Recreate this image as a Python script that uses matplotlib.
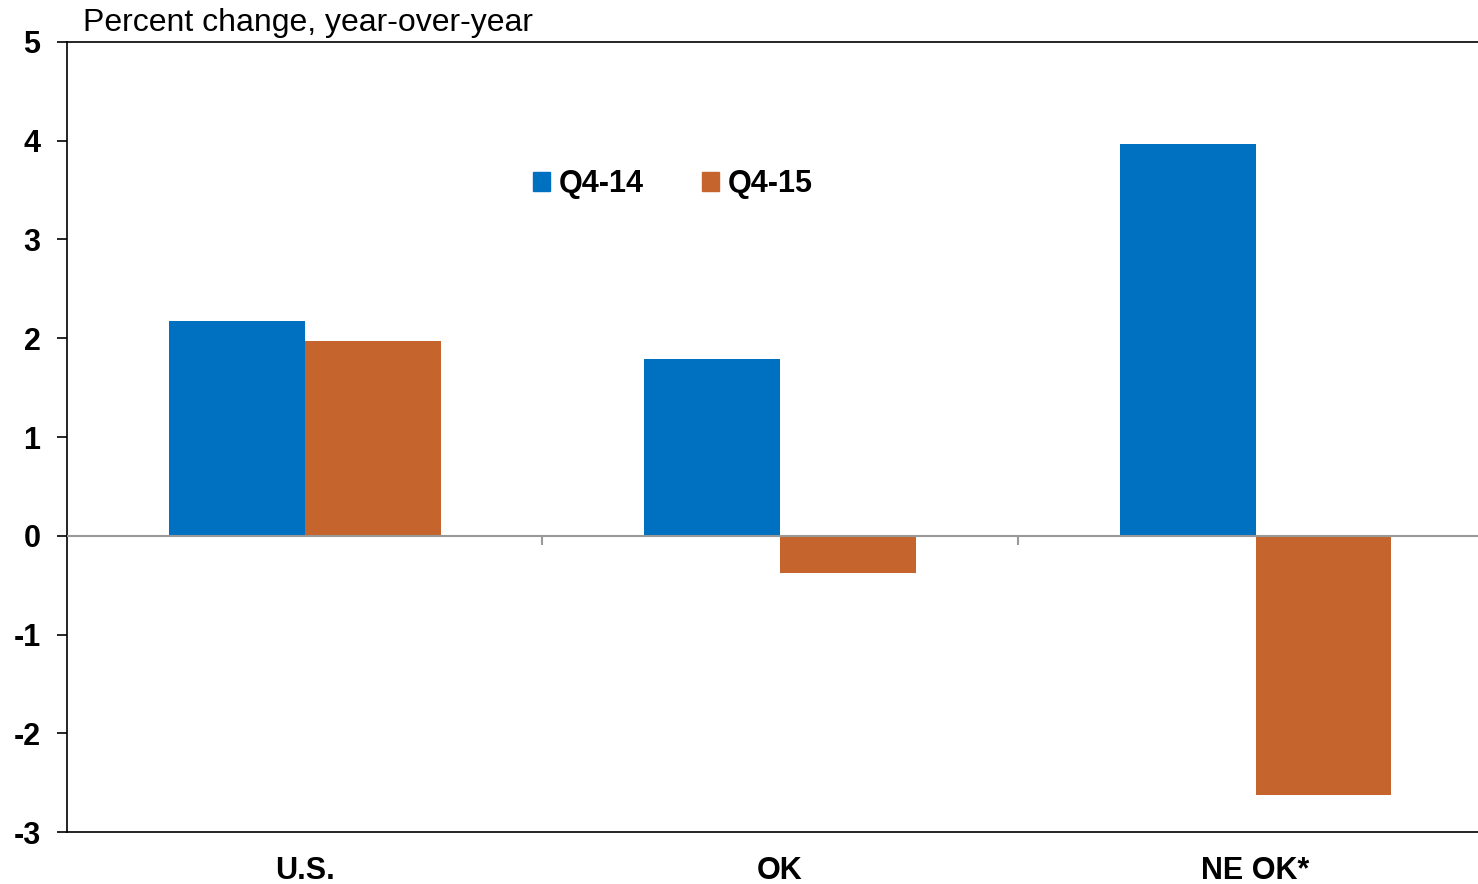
import numpy as np
import matplotlib
matplotlib.use("Agg")
import matplotlib.pyplot as plt
from matplotlib.patches import Patch

plt.rcParams['font.family'] = ['Liberation Sans', 'DejaVu Sans']
plt.rcParams['axes.unicode_minus'] = False

# data
categories = ["U.S.", "OK", "NE OK*"]
series_names = ["Q4-14", "Q4-15"]
q4_14 = [2.17, 1.79, 3.97]
q4_15 = [1.97, -0.38, -2.63]
colors = ["#0070C0", "#C5652D"]

fig = plt.figure(figsize=(14.78, 8.84), dpi=100)
ax = fig.add_axes([0.0453, 0.0588, 0.965, 0.8937])

x = np.arange(len(categories))
w = 0.286
ax.bar(x - w / 2, q4_14, width=w, color=colors[0], zorder=2)
ax.bar(x + w / 2, q4_15, width=w, color=colors[1], zorder=2)

# zero line with small ticks between categories
ax.axhline(0, color="#999999", linewidth=1.5, zorder=3)
ax.vlines(x[:-1] + 0.5, -0.09, 0, color="#999999", linewidth=1.5, zorder=3)

ax.set_xlim(-0.5, 2.5)
ax.set_ylim(-3, 5)
ax.set_yticks(range(-3, 6))
ax.set_xticks(x)
ax.set_xticklabels(categories, fontsize=22, fontweight="bold")
ax.tick_params(axis="x", length=0, pad=17)
ax.tick_params(axis="y", direction="out", length=7, width=1.2, labelsize=22, pad=12)
for lbl in ax.get_yticklabels():
    lbl.set_fontweight("bold")

for side in ["top", "bottom", "left"]:
    ax.spines[side].set_linewidth(1.2)
    ax.spines[side].set_color("black")
ax.spines["right"].set_visible(False)

fig.text(83 / 1478, 1 - 23 / 884, "Percent change, year-over-year",
         fontsize=23, va="center", ha="left")

handles = [Patch(color=c) for c in colors]
leg = ax.legend(handles, series_names, ncol=2, frameon=False,
                loc="center", bbox_to_anchor=(0.425, 0.82),
                prop={"size": 22, "weight": "bold"},
                handlelength=0.55, handleheight=0.55, handletextpad=0.3,
                columnspacing=1.9)

fig.savefig("out.png", dpi=100)
